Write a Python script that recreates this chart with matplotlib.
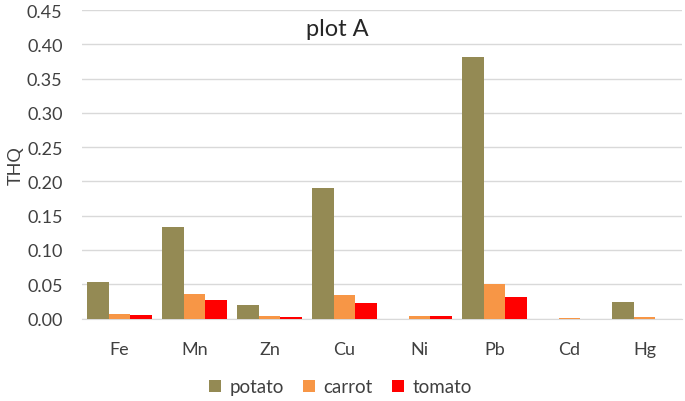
import matplotlib
matplotlib.use("Agg")
import matplotlib.pyplot as plt
import numpy as np

plt.rcParams['font.family'] = ['Lato', 'DejaVu Sans']

categories = ["Fe", "Mn", "Zn", "Cu", "Ni", "Pb", "Cd", "Hg"]
potato = [0.053, 0.134, 0.020, 0.191, 0.000, 0.381, 0.000, 0.024]
carrot = [0.007, 0.036, 0.004, 0.035, 0.003, 0.050, 0.001, 0.002]
tomato = [0.005, 0.027, 0.0025, 0.022, 0.003, 0.031, 0.000, 0.000]
yticks = [0.00, 0.05, 0.10, 0.15, 0.20, 0.25, 0.30, 0.35, 0.40, 0.45]

fig = plt.figure(figsize=(6.85, 4.02), dpi=100)
ax = fig.add_axes([82/685, 82.5/402, 600/685, 308.3/402])

x = np.arange(len(categories))
w = 0.287
series = [("potato", potato, "#948A54"), ("carrot", carrot, "#F79646"), ("tomato", tomato, "#FF0000")]
for i, (name, vals, col) in enumerate(series):
    ax.bar(x + (i - 1) * w, vals, width=w, color=col, label=name, zorder=3)

ax.set_xlim(-0.5, len(categories) - 0.5)
ax.set_ylim(0, 0.45)
ax.set_yticks(yticks)
ax.set_yticklabels([f"{v:.2f}" for v in yticks], fontsize=13, color="#404040")
ax.set_xticks(x)
ax.set_xticklabels(categories, fontsize=13, color="#404040")
ax.tick_params(axis='both', length=0)
ax.tick_params(axis='x', pad=16)
ax.tick_params(axis='y', pad=14)
ax.grid(axis='y', color="#D9D9D9", linewidth=1, zorder=0)
for s in ["top", "right", "left"]:
    ax.spines[s].set_visible(False)
ax.spines["bottom"].set_color("#D9D9D9")
ax.set_ylabel("THQ", fontsize=13, color="#404040", labelpad=2)
ax.text(0.426, 0.94, "plot A", transform=ax.transAxes, fontsize=17, color="#262626", ha="center", va="center")

fig.legend(loc="center", bbox_to_anchor=(0.497, 0.035), ncol=3, frameon=False, fontsize=13.5,
           handlelength=0.65, handleheight=0.65, handletextpad=0.45, columnspacing=1.0,
           labelcolor="#404040")

fig.savefig("out.png", dpi=100)
